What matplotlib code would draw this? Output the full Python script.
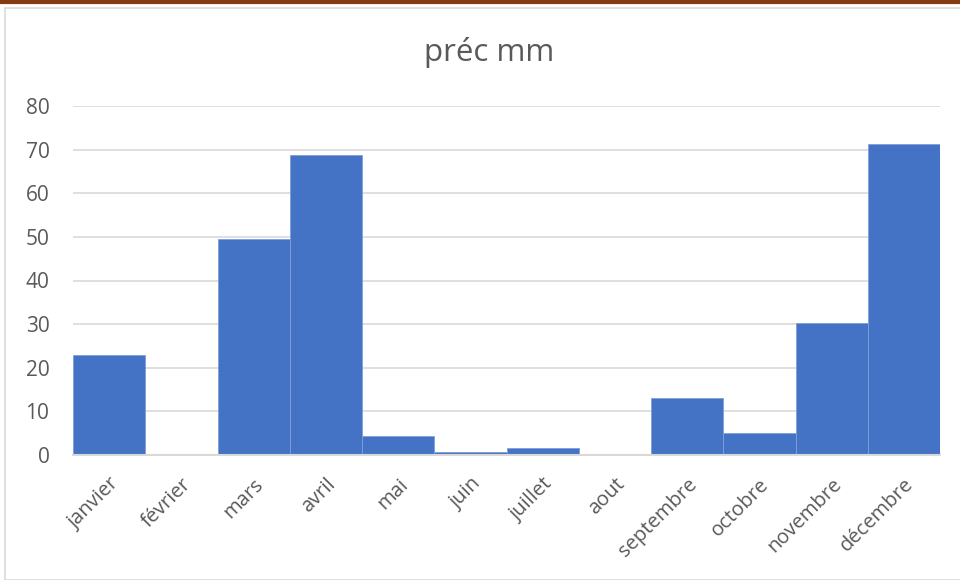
import matplotlib
matplotlib.use("Agg")
import matplotlib.pyplot as plt
import matplotlib.transforms as mtransforms
from matplotlib.patches import Rectangle
from matplotlib.lines import Line2D

months = ["janvier", "février", "mars", "avril", "mai", "juin", "juillet",
          "aout", "septembre", "octobre", "novembre", "décembre"]
precip_mm = [22.9, 0.0, 49.5, 68.7, 4.4, 0.7, 1.6, 0.3, 13.1, 5.0, 30.2, 71.3]
yticks = [0, 10, 20, 30, 40, 50, 60, 70, 80]

plt.rcParams["font.family"] = ["Open Sans", "DejaVu Sans"]

W, H = 960, 580
fig = plt.figure(figsize=(W / 100, H / 100), dpi=100)
fig.patch.set_facecolor("white")

# chart frame and top accent line
fig.add_artist(Rectangle((5 / W, 0), 1.0, 1 - 8 / H, transform=fig.transFigure,
                         fill=False, edgecolor="#D9D9D9", linewidth=1.2))
fig.add_artist(Line2D([0, 1], [1 - 1.5 / H, 1 - 1.5 / H], transform=fig.transFigure,
                      color="#843C0C", linewidth=3))

left, right, top, bottom = 73, 940, 106, 455
ax = fig.add_axes([left / W, 1 - bottom / H, (right - left) / W, (bottom - top) / H])

x = range(len(months))
ax.bar(x, precip_mm, width=1.0, color="#4472C4", edgecolor="#7F9FD9",
       linewidth=0.6, zorder=3)

ax.set_xlim(-0.5, len(months) - 0.5)
ax.set_ylim(0, 80)
ax.set_yticks(yticks)
ax.set_yticklabels([str(v) for v in yticks], fontsize=15, color="#595959")
ax.yaxis.grid(True, color="#D9D9D9", linewidth=1.2, zorder=0)
ax.set_axisbelow(True)

ax.set_xticks(list(x))
ax.set_xticklabels(months, rotation=45, ha="right", rotation_mode="anchor",
                   fontsize=14.5, color="#595959")
shift = mtransforms.ScaledTranslation(-5 / 100, 0, fig.dpi_scale_trans)
for lbl in ax.get_xticklabels():
    lbl.set_transform(lbl.get_transform() + shift)
ax.tick_params(axis="both", length=0)
ax.tick_params(axis="x", pad=14)
ax.tick_params(axis="y", pad=17)

for s in ["top", "right", "left"]:
    ax.spines[s].set_visible(False)
ax.spines["bottom"].set_color("#D9D9D9")
ax.spines["bottom"].set_linewidth(1.5)
ax.spines["bottom"].set_zorder(4)

fig.text(489 / W, 1 - 52 / H, "préc mm", ha="center", va="center",
         fontsize=22.5, color="#595959")

fig.savefig("out.png", dpi=100, facecolor="white")
